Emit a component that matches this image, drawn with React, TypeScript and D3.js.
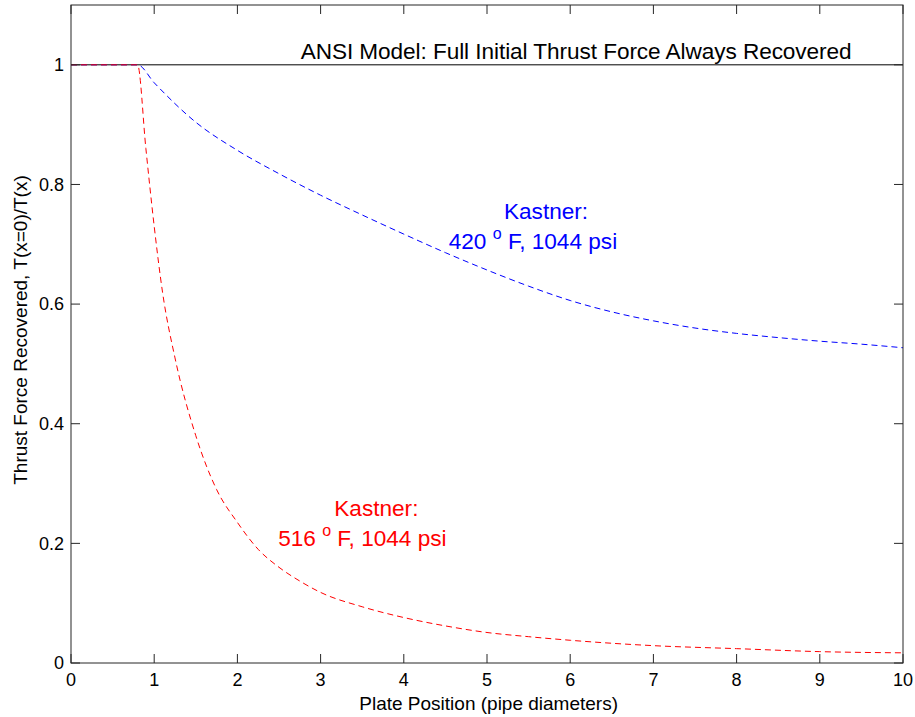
import React from "react";
import * as d3 from "d3";

// plate position (pipe diameters) and recovered thrust fraction
const blueX = [0, 0.8, 1, 1.5, 2, 2.5, 3, 3.5, 4, 4.5, 5, 5.5, 6, 6.5, 7, 7.5, 8, 8.5, 9, 9.5, 10];
const blueY = [1, 1, 0.97, 0.904, 0.857, 0.818, 0.782, 0.749, 0.717, 0.686, 0.657, 0.63, 0.606, 0.587, 0.572, 0.56, 0.551, 0.544, 0.538, 0.533, 0.527];

const redX = [0, 0.8, 0.9, 1.0, 1.1, 1.25, 1.5, 1.75, 2, 2.25, 2.5, 2.75, 3, 3.5, 4, 4.5, 5, 5.5, 6, 7, 8, 9, 10];
const redY = [1, 1, 0.86, 0.73, 0.62, 0.51, 0.38, 0.29, 0.235, 0.19, 0.16, 0.137, 0.118, 0.094, 0.076, 0.062, 0.051, 0.044, 0.038, 0.029, 0.024, 0.019, 0.017];

const ansiX = [0, 10];
const ansiY = [1, 1];

const xTicks = [0, 1, 2, 3, 4, 5, 6, 7, 8, 9, 10];
const yTicks = [0, 0.2, 0.4, 0.6, 0.8, 1];

const width = 915;
const height = 717;
const margin = { top: 5, right: 12, bottom: 54, left: 71 };
const innerWidth = width - margin.left - margin.right;
const innerHeight = height - margin.top - margin.bottom;

const font = "Arial, 'Liberation Sans', Helvetica, sans-serif";

const App = () => {
  const x = d3.scaleLinear().domain([0, 10]).range([0, innerWidth]);
  const y = d3.scaleLinear().domain([0, 1.1]).range([innerHeight, 0]);

  const line = d3
    .line<[number, number]>()
    .x((d) => x(d[0]))
    .y((d) => y(d[1]))
    .curve(d3.curveMonotoneX);

  const blue = blueX.map((v, i) => [v, blueY[i]] as [number, number]);
  const red = redX.map((v, i) => [v, redY[i]] as [number, number]);
  const ansi = ansiX.map((v, i) => [v, ansiY[i]] as [number, number]);

  const tickLen = 9;
  const axisColor = "#262626";
  const annSize = 22.6;

  return (
    <svg
      width={width}
      height={height}
      style={{ position: "absolute", left: 0, top: 0, background: "#fff", fontFamily: font }}
    >
      <g transform={`translate(${margin.left},${margin.top})`}>
        {/* data */}
        <path d={line(ansi) || ""} fill="none" stroke="#000" strokeWidth={1} />
        <path d={line(blue) || ""} fill="none" stroke="#0000ff" strokeWidth={1} strokeDasharray="6,4" />
        <path d={line(red) || ""} fill="none" stroke="#ff0000" strokeWidth={1} strokeDasharray="6,4" />

        {/* box */}
        <rect x={0} y={0} width={innerWidth} height={innerHeight} fill="none" stroke={axisColor} strokeWidth={1} />

        {xTicks.map((t) => (
          <g key={"x" + t} transform={`translate(${x(t)},0)`}>
            <line y1={innerHeight} y2={innerHeight - tickLen} stroke={axisColor} />
            <line y1={0} y2={tickLen} stroke={axisColor} />
            <text y={innerHeight + 23} textAnchor="middle" fontSize={18} fill="#000">
              {t}
            </text>
          </g>
        ))}
        {yTicks.map((t) => (
          <g key={"y" + t} transform={`translate(0,${y(t)})`}>
            <line x1={0} x2={tickLen} stroke={axisColor} />
            <line x1={innerWidth} x2={innerWidth - tickLen} stroke={axisColor} />
            <text x={-7} dy="0.35em" textAnchor="end" fontSize={18} fill="#000">
              {t}
            </text>
          </g>
        ))}

        {/* annotations */}
        <text x={x(2.76)} y={y(1) - 6} fontSize={annSize} textLength={551} fill="#000">
          ANSI Model: Full Initial Thrust Force Always Recovered
        </text>

        <text x={x(5.71)} y={y(0.742)} textAnchor="middle" fontSize={annSize} fill="#0000ff">
          Kastner:
        </text>
        <text x={x(4.54)} y={y(0.692)} fontSize={annSize} fill="#0000ff">
          {"420 "}
          <tspan dy={-10} fontSize={16}>o</tspan>
          <tspan dy={10}>{" F, 1044 psi"}</tspan>
        </text>

        <text x={x(3.67)} y={y(0.2457)} textAnchor="middle" fontSize={annSize} fill="#ff0000">
          Kastner:
        </text>
        <text x={x(2.49)} y={y(0.1956)} fontSize={annSize} fill="#ff0000">
          {"516 "}
          <tspan dy={-10} fontSize={16}>o</tspan>
          <tspan dy={10}>{" F, 1044 psi"}</tspan>
        </text>

        {/* axis labels */}
        <text x={x(5.02)} y={innerHeight + 47} textAnchor="middle" fontSize={19} fill="#000">
          Plate Position (pipe diameters)
        </text>
        <text
          transform={`translate(${27 - margin.left},${330 - margin.top}) rotate(-90)`}
          textAnchor="middle"
          fontSize={19}
          fill="#000"
        >
          Thrust Force Recovered, T(x=0)/T(x)
        </text>
      </g>
    </svg>
  );
};

export default App;
